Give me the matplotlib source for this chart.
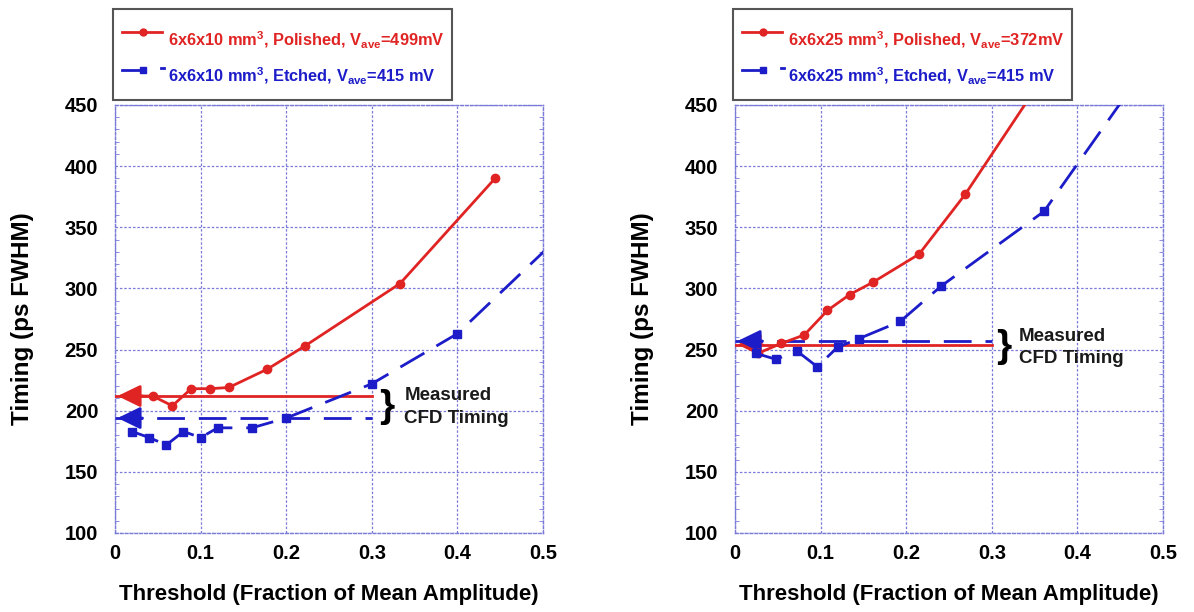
import matplotlib
matplotlib.use("Agg")
import matplotlib.pyplot as plt
from matplotlib.lines import Line2D
from matplotlib.patches import Rectangle
from matplotlib.ticker import MultipleLocator

plt.rcParams['font.family'] = ['Liberation Sans', 'DejaVu Sans']
plt.rcParams['font.weight'] = 'bold'
plt.rcParams['mathtext.fontset'] = 'custom'
plt.rcParams['mathtext.rm'] = 'Liberation Sans:bold'
plt.rcParams['mathtext.bf'] = 'Liberation Sans:bold'
plt.rcParams['mathtext.it'] = 'Liberation Sans:bold'

RED = '#e02424'
BLUE = '#1c1cc8'
GRID = '#7a7ad8'

# ---- 6x6x10 mm^3 crystals ----
pol10_x = [0.022, 0.044, 0.067, 0.089, 0.111, 0.133, 0.178, 0.222, 0.333, 0.444]
pol10_y = [212, 212, 204, 218, 218, 219, 234, 253, 304, 390]
etch10_x = [0.02, 0.04, 0.06, 0.08, 0.10, 0.12, 0.16, 0.20, 0.30, 0.40, 0.60]
etch10_y = [183, 178, 172, 183, 178, 186, 186, 194, 222, 263, 396]
cfd10_pol = 212
cfd10_etch = 194

# ---- 6x6x25 mm^3 crystals ----
pol25_x = [0.027, 0.054, 0.081, 0.108, 0.134, 0.161, 0.215, 0.269, 0.403]
pol25_y = [247, 255, 262, 282, 295, 305, 328, 377, 518]
etch25_x = [0.024, 0.048, 0.072, 0.096, 0.120, 0.145, 0.193, 0.241, 0.361, 0.482]
etch25_y = [247, 242, 249, 236, 252, 259, 273, 302, 363, 483]
cfd25_pol = 254
cfd25_etch = 257

cfd_x = [0.0, 0.3]
x_ticks = [0, 0.1, 0.2, 0.3, 0.4, 0.5]
x_ticklabels = ['0', '0.1', '0.2', '0.3', '0.4', '0.5']
y_ticks = [100, 150, 200, 250, 300, 350, 400, 450]

legend10 = [r'6x6x10 mm$^{3}$, Polished, V$_{ave}$=499mV',
            r'6x6x10 mm$^{3}$, Etched, V$_{ave}$=415 mV']
legend25 = [r'6x6x25 mm$^{3}$, Polished, V$_{ave}$=372mV',
            r'6x6x25 mm$^{3}$, Etched, V$_{ave}$=415 mV']

W, H = 1194, 612
fig = plt.figure(figsize=(W / 100, H / 100), dpi=100)


def px(x, y):
    return x / W, 1 - y / H


def panel(left_px, px_, py_, ex, ey, cfd_p, cfd_e, brace_x, brace_y, txt_x, labels):
    ax = fig.add_axes([left_px / W, 79 / H, 428 / W, 428 / H])
    ax.set_xlim(0, 0.5)
    ax.set_ylim(100, 450)
    ax.set_xticks(x_ticks)
    ax.set_xticklabels(x_ticklabels)
    ax.set_yticks(y_ticks)
    ax.yaxis.set_minor_locator(MultipleLocator(10))
    ax.grid(True, which='major', color=GRID, ls=(0, (2, 1.5)), lw=0.9)
    for s in ax.spines.values():
        s.set_color(GRID)
        s.set_linestyle((0, (2, 1.5)))
        s.set_linewidth(1.0)
    ax.tick_params(axis='both', which='both', direction='in', color=GRID,
                   right=True, top=True, labelsize=14.5)
    ax.tick_params(axis='x', which='major', length=0, pad=8)
    ax.tick_params(axis='y', which='major', length=0, pad=12)
    ax.tick_params(axis='y', which='minor', length=3)
    for lab in ax.get_xticklabels() + ax.get_yticklabels():
        lab.set_fontweight('bold')

    # measured CFD timing reference lines with arrowheads
    ax.plot(cfd_x, [cfd_p, cfd_p], color=RED, lw=2, zorder=3)
    ax.plot(cfd_x, [cfd_e, cfd_e], color=BLUE, lw=2, dashes=(10, 5), zorder=3)
    for yv, c in ((cfd_p, RED), (cfd_e, BLUE)):
        ax.annotate('', xy=(0.003, yv), xytext=(0.032, yv),
                    arrowprops=dict(arrowstyle='-|>,head_length=0.7,head_width=0.34',
                                    color=c, lw=2, shrinkA=0, shrinkB=0,
                                    mutation_scale=20), zorder=4)

    ax.plot(px_, py_, color=RED, lw=2, marker='o', ms=6, zorder=5)
    ax.plot(ex, ey, color=BLUE, lw=2, dashes=(10, 5), marker='s', ms=6, zorder=5)

    ax.text(brace_x, brace_y, '}', fontsize=28, fontweight='bold', ha='center', va='center')
    ax.text(txt_x, brace_y, 'Measured\nCFD Timing', fontsize=13.5, fontweight='bold',
            ha='left', va='center', linespacing=1.4, color='#1a1a1a')

    ax.set_xlabel('Threshold (Fraction of Mean Amplitude)', fontsize=16, fontweight='bold')
    ax.set_ylabel('Timing (ps FWHM)', fontsize=17.5, fontweight='bold')
    ax.xaxis.set_label_coords(0.5, -0.12)
    ax.yaxis.set_label_coords(-0.19, 0.5)

    # legend box above the axes
    bx0, by0 = px(left_px - 2, 100)
    bx1, by1 = px(left_px + 337, 9)
    fig.add_artist(Rectangle((bx0, by0), bx1 - bx0, by1 - by0, transform=fig.transFigure,
                             facecolor='white', edgecolor='#555555', lw=1.5))
    x0 = left_px + 7
    # polished entry
    fig.add_artist(Line2D([px(x0, 0)[0], px(x0 + 40, 0)[0]], [px(0, 32)[1]] * 2,
                          transform=fig.transFigure, color=RED, lw=2))
    fig.add_artist(Line2D([px(x0 + 21, 0)[0]], [px(0, 32)[1]], transform=fig.transFigure,
                          color=RED, marker='o', ms=5))
    fig.text(*px(x0 + 46, 46), labels[0], color=RED, fontsize=11.8, fontweight='bold',
             ha='left', va='baseline')
    # etched entry
    fig.add_artist(Line2D([px(x0, 0)[0], px(x0 + 21, 0)[0]], [px(0, 70)[1]] * 2,
                          transform=fig.transFigure, color=BLUE, lw=2))
    fig.add_artist(Line2D([px(x0 + 39, 0)[0], px(x0 + 42, 0)[0]], [px(0, 68)[1]] * 2,
                          transform=fig.transFigure, color=BLUE, lw=2))
    fig.add_artist(Line2D([px(x0 + 21, 0)[0]], [px(0, 70)[1]], transform=fig.transFigure,
                          color=BLUE, marker='s', ms=5))
    fig.text(*px(x0 + 46, 82), labels[1], color=BLUE, fontsize=11.8, fontweight='bold',
             ha='left', va='baseline')
    return ax


panel(115, pol10_x, pol10_y, etch10_x, etch10_y, cfd10_pol, cfd10_etch,
      0.318, 203, 0.338, legend10)
panel(735, pol25_x, pol25_y, etch25_x, etch25_y, cfd25_pol, cfd25_etch,
      0.314, 252, 0.332, legend25)

fig.savefig('out.png', dpi=100, facecolor='white')
